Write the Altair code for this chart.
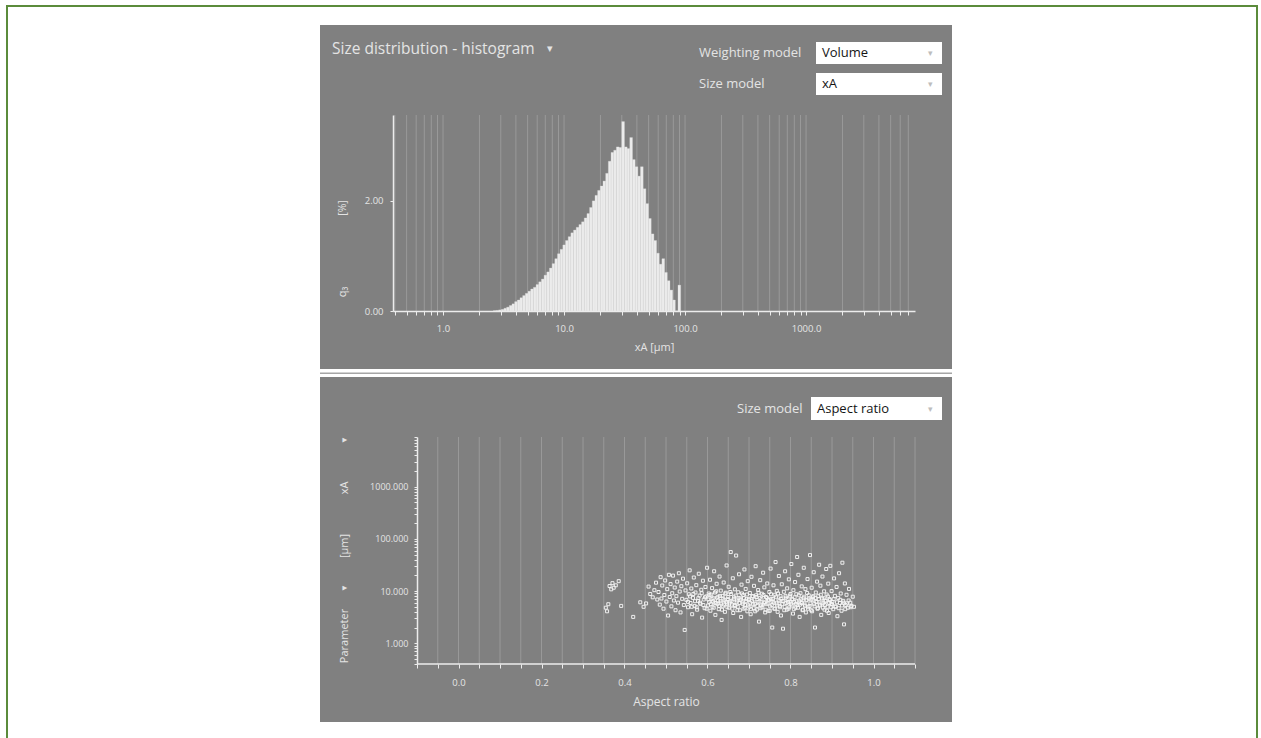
import altair as alt
import pandas as pd
import numpy as np

FONT = "Open Sans"
PANEL = "#808080"
GRID = "#999999"
AXIS = "#ececec"
LABEL = "#e4e4e4"
FRAME = "#5b8b3b"

# ---------------- histogram (top panel) ----------------
hist_edge_min_um = 2.6
hist_edge_max_um = 92.0
hist_q3 = [0.005, 0.01, 0.02, 0.03, 0.05, 0.07, 0.10, 0.13, 0.17, 0.20,
           0.24, 0.28, 0.32, 0.36, 0.40, 0.43, 0.48, 0.53, 0.58, 0.65,
           0.71, 0.78, 0.86, 0.95, 1.04, 1.12, 1.20, 1.28, 1.35, 1.42,
           1.47, 1.52, 1.57, 1.62, 1.69, 1.77, 1.88, 2.00, 2.10, 2.19,
           2.27, 2.36, 2.50, 2.72, 2.88, 2.92, 2.98, 2.97, 3.44, 2.98,
           2.95, 3.15, 2.75, 2.62, 2.45, 2.62, 2.22, 1.95, 1.68, 1.40,
           1.28, 1.05, 0.85, 0.95, 0.70, 0.55, 0.38, 0.20, 0.0, 0.47]
top_x_ticks = [0.4, 0.5, 0.6, 0.7, 0.8, 0.9,
               1, 2, 3, 4, 5, 6, 7, 8, 9,
               10, 20, 30, 40, 50, 60, 70, 80, 90,
               100, 200, 300, 400, 500, 600, 700, 800, 900,
               1000, 2000, 3000, 4000, 5000, 6000, 7000]
top_x_labels = [1, 10, 100, 1000]
top_y_ticks = [0, 2]

# ---------------- scatter (bottom panel): (aspect ratio, xA in um) ----------------
scatter_points = [
    (0.355, 4.8), (0.358, 4.1), (0.361, 5.6), (0.364, 12.5), (0.368, 10.8), (0.371, 14.2), (0.374, 11.6),
    (0.379, 12.9), (0.386, 15.5), (0.392, 5.2), (0.421, 3.2), (0.438, 6.1), (0.446, 5.0), (0.452, 5.8),
    (0.458, 12.2), (0.462, 8.8), (0.468, 7.6), (0.472, 10.4), (0.476, 14.5), (0.479, 6.9),
    (0.482, 9.6), (0.485, 5.5), (0.487, 18.5), (0.489, 7.2), (0.491, 12.8), (0.494, 4.6), (0.496, 8.4),
    (0.498, 16.0), (0.501, 6.3), (0.503, 10.9), (0.505, 3.4), (0.507, 20.5), (0.509, 7.7), (0.511, 13.6),
    (0.513, 5.1), (0.515, 9.1), (0.517, 19.8), (0.519, 6.6), (0.521, 11.7), (0.523, 4.3),
    (0.525, 8.0), (0.527, 15.2), (0.529, 6.0), (0.531, 22.0), (0.533, 9.8), (0.535, 3.9), (0.537, 12.4),
    (0.539, 7.1), (0.541, 17.3), (0.543, 5.4), (0.545, 1.8), (0.547, 10.3), (0.549, 6.8), (0.551, 14.1),
    (0.553, 4.9), (0.555, 8.7), (0.557, 25.0), (0.559, 5.9), (0.561, 11.2), (0.563, 3.6),
    (0.565, 7.4), (0.567, 18.2), (0.569, 5.2), (0.571, 9.4), (0.573, 13.0), (0.575, 4.4), (0.577, 6.5),
    (0.579, 21.5), (0.581, 8.2), (0.583, 5.7), (0.585, 10.6), (0.587, 3.1), (0.589, 15.8), (0.591, 6.9),
    (0.593, 4.7), (0.595, 12.0), (0.597, 7.9), (0.599, 28.0), (0.601, 5.3), (0.603, 9.0),
    (0.604, 6.2), (0.606, 16.5), (0.607, 4.2), (0.609, 8.6), (0.611, 11.4), (0.612, 5.0), (0.614, 7.3),
    (0.616, 24.0), (0.617, 6.0), (0.619, 3.5), (0.621, 9.9), (0.622, 13.8), (0.624, 5.6), (0.626, 7.8),
    (0.627, 4.5), (0.629, 19.0), (0.631, 6.4), (0.632, 10.2), (0.634, 2.8), (0.636, 8.1), (0.637, 5.1),
    (0.639, 14.6), (0.641, 6.7), (0.642, 4.0), (0.644, 9.3), (0.646, 31.0), (0.647, 5.8), (0.649, 7.0),
    (0.651, 12.1), (0.652, 4.8), (0.654, 6.3), (0.656, 56.0), (0.657, 8.8), (0.659, 5.5), (0.661, 17.6),
    (0.662, 3.8), (0.664, 7.6), (0.666, 10.8), (0.667, 5.2), (0.669, 48.0), (0.671, 6.6), (0.672, 4.3),
    (0.674, 9.5), (0.676, 21.0), (0.677, 5.9), (0.679, 7.2), (0.681, 3.2), (0.682, 13.3), (0.684, 6.1),
    (0.686, 8.4), (0.687, 4.6), (0.689, 26.0), (0.691, 5.4), (0.692, 11.0), (0.694, 7.0), (0.696, 4.1),
    (0.697, 15.5), (0.699, 6.8),
    (0.701, 5.0), (0.702, 9.2), (0.704, 3.6), (0.706, 18.8), (0.707, 6.5), (0.709, 7.9), (0.711, 4.7),
    (0.712, 12.6), (0.714, 5.7), (0.716, 30.0), (0.717, 8.3), (0.719, 4.4), (0.721, 6.2), (0.722, 10.5),
    (0.724, 2.6), (0.726, 7.4), (0.727, 16.2), (0.729, 5.3), (0.731, 8.9), (0.732, 4.9), (0.734, 22.5),
    (0.736, 6.0), (0.737, 11.8), (0.739, 3.9), (0.741, 7.7), (0.742, 5.6), (0.744, 14.0), (0.746, 6.9),
    (0.747, 4.2), (0.749, 9.6),
    (0.751, 5.1), (0.752, 27.0), (0.754, 7.1), (0.756, 2.0), (0.757, 6.3), (0.759, 12.9), (0.761, 4.6),
    (0.762, 8.5), (0.764, 36.0), (0.766, 5.8), (0.767, 10.1), (0.769, 4.0), (0.771, 6.7), (0.772, 19.5),
    (0.774, 5.2), (0.776, 8.0), (0.777, 3.4), (0.779, 13.5), (0.781, 6.4), (0.782, 1.9), (0.784, 9.7),
    (0.786, 5.0), (0.787, 24.0), (0.789, 7.5), (0.791, 4.4), (0.792, 11.3), (0.794, 6.1), (0.796, 16.8),
    (0.797, 4.9), (0.799, 8.2),
    (0.801, 5.7), (0.802, 33.0), (0.804, 7.0), (0.806, 3.7), (0.807, 10.4), (0.809, 6.2), (0.811, 14.9),
    (0.812, 4.8), (0.814, 8.7), (0.816, 45.0), (0.817, 5.4), (0.819, 20.5), (0.821, 6.6), (0.822, 3.2),
    (0.824, 9.1), (0.826, 5.9), (0.827, 12.3), (0.829, 4.3), (0.831, 7.3), (0.832, 28.0), (0.834, 5.5),
    (0.836, 10.9), (0.837, 3.9), (0.839, 6.8), (0.841, 17.0), (0.842, 4.6), (0.844, 8.3), (0.846, 5.2),
    (0.847, 49.0), (0.849, 6.9),
    (0.851, 11.6), (0.852, 4.1), (0.854, 7.6), (0.856, 23.0), (0.857, 5.6), (0.859, 2.0), (0.861, 9.4),
    (0.862, 6.3), (0.864, 15.2), (0.866, 4.7), (0.867, 8.0), (0.869, 32.0), (0.871, 5.3), (0.872, 12.7),
    (0.874, 3.5), (0.876, 7.2), (0.877, 19.0), (0.879, 5.8), (0.881, 9.9), (0.882, 4.4), (0.884, 6.6),
    (0.886, 26.5), (0.887, 8.6), (0.889, 5.0), (0.891, 13.9), (0.892, 3.8), (0.894, 7.0), (0.896, 30.5),
    (0.897, 5.7), (0.899, 10.0),
    (0.901, 6.2), (0.903, 4.5), (0.905, 17.5), (0.907, 8.1), (0.909, 5.1), (0.911, 12.0), (0.913, 3.3),
    (0.915, 7.4), (0.917, 22.0), (0.919, 5.9), (0.921, 9.0), (0.923, 4.2), (0.925, 35.0), (0.927, 6.5),
    (0.929, 2.3), (0.931, 14.0), (0.933, 5.4), (0.935, 8.5), (0.938, 4.8), (0.941, 11.0), (0.944, 6.0),
    (0.947, 5.2), (0.950, 7.8), (0.953, 5.0),
    # dense core
    (0.553, 6.2), (0.558, 7.9), (0.562, 5.0), (0.566, 8.8), (0.570, 6.4), (0.574, 4.9), (0.578, 7.3),
    (0.582, 6.0), (0.586, 9.1), (0.590, 5.4), (0.594, 7.6), (0.598, 4.6), (0.602, 6.9), (0.605, 8.4),
    (0.608, 5.6), (0.610, 7.1), (0.613, 6.3), (0.615, 4.8), (0.618, 9.4), (0.620, 5.9), (0.623, 7.5),
    (0.625, 6.6), (0.628, 5.2), (0.630, 8.1), (0.633, 6.0), (0.635, 4.4), (0.638, 7.2), (0.640, 5.5),
    (0.643, 8.9), (0.645, 6.2), (0.648, 4.9), (0.650, 7.7), (0.653, 5.8), (0.655, 9.6), (0.658, 6.5),
    (0.660, 4.6), (0.663, 7.0), (0.665, 5.4), (0.668, 8.2), (0.670, 6.1), (0.673, 5.0), (0.675, 7.4),
    (0.678, 4.3), (0.680, 6.8), (0.683, 9.0), (0.685, 5.7), (0.688, 7.3), (0.690, 4.8), (0.693, 6.4),
    (0.695, 8.6), (0.698, 5.3), (0.700, 7.1), (0.703, 6.0), (0.705, 4.5), (0.708, 8.0), (0.710, 5.6),
    (0.713, 6.9), (0.715, 4.1), (0.718, 7.7), (0.720, 5.2), (0.723, 9.3), (0.725, 6.3), (0.728, 4.7),
    (0.730, 7.0), (0.733, 5.5), (0.735, 8.4), (0.738, 6.1), (0.740, 4.4), (0.743, 7.4), (0.745, 5.8),
    (0.748, 6.7), (0.750, 4.2), (0.753, 8.7), (0.755, 5.4), (0.758, 7.1), (0.760, 6.0), (0.763, 4.6),
    (0.765, 7.8), (0.768, 5.3), (0.770, 9.0), (0.773, 6.4), (0.775, 4.9), (0.778, 7.2), (0.780, 5.6),
    (0.783, 6.5), (0.785, 4.3), (0.788, 8.1), (0.790, 5.9), (0.793, 7.0), (0.795, 4.6), (0.798, 6.2),
    (0.800, 8.8), (0.803, 5.3), (0.805, 6.9), (0.808, 4.5), (0.810, 7.6), (0.813, 5.7), (0.815, 6.4),
    (0.818, 4.8), (0.820, 8.3), (0.823, 5.5), (0.825, 7.0), (0.828, 6.0), (0.830, 4.4), (0.833, 7.8),
    (0.835, 5.2), (0.838, 6.6), (0.840, 9.2), (0.843, 5.0), (0.845, 7.2), (0.848, 5.8), (0.850, 4.3),
    (0.853, 6.8), (0.855, 8.0), (0.858, 5.1), (0.860, 7.4), (0.863, 6.2), (0.865, 4.6), (0.868, 7.0),
    (0.870, 5.5), (0.873, 8.5), (0.875, 6.0), (0.878, 4.8), (0.880, 7.3), (0.883, 5.4), (0.885, 6.5),
    (0.888, 4.2), (0.890, 7.9), (0.893, 5.9), (0.895, 6.7), (0.898, 4.9), (0.900, 5.6), (0.904, 7.0),
    (0.908, 5.0), (0.912, 6.1), (0.916, 4.7), (0.920, 6.8), (0.924, 5.3), (0.928, 6.0), (0.932, 4.5),
    (0.936, 5.8), (0.940, 6.6), (0.945, 4.9),
]
bot_x_ticks = [-0.1, -0.05, 0.0, 0.05, 0.1, 0.15, 0.2, 0.25, 0.3, 0.35, 0.4, 0.45, 0.5,
               0.55, 0.6, 0.65, 0.7, 0.75, 0.8, 0.85, 0.9, 0.95, 1.0, 1.05, 1.1]
bot_x_labels = [0.0, 0.2, 0.4, 0.6, 0.8, 1.0]
bot_grid = [-0.05, 0.0, 0.05, 0.1, 0.15, 0.2, 0.25, 0.3, 0.35, 0.4, 0.45, 0.5,
            0.55, 0.6, 0.65, 0.7, 0.75, 0.8, 0.85, 0.9, 0.95, 1.0, 1.05, 1.1]
bot_y_ticks = [0.4, 0.5, 0.6, 0.7, 0.8, 0.9, 1, 2, 3, 4, 5, 6, 7, 8, 9,
               10, 20, 30, 40, 50, 60, 70, 80, 90, 100, 200, 300, 400, 500, 600, 700, 800, 900,
               1000, 2000, 3000, 4000, 5000, 6000, 7000, 8000, 9000]
bot_y_labels = [1, 10, 100, 1000]

# ---------------- helpers ----------------
ONE = pd.DataFrame({"k": [0]})


def txt(s, x, y, **kw):
    style = dict(align="left", baseline="middle", font=FONT, fontSize=13, color=LABEL)
    style.update(kw)
    return alt.Chart(ONE).mark_text(**style).encode(
        x=alt.value(x), y=alt.value(y), text=alt.value(s))


def box(x1, x2, y1, y2, **kw):
    return alt.Chart(ONE).mark_rect(**kw).encode(
        x=alt.value(x1), x2=alt.value(x2), y=alt.value(y1), y2=alt.value(y2))


def dropdown(x1, x2, y1, y2, label):
    ym = (y1 + y2) / 2
    return [
        box(x1, x2, y1, y2, color="white"),
        txt(label, x1 + 6, ym, color="#151515", fontSize=13),
        txt("▾", x2 - 12, ym, color="#bdbdbd", fontSize=9, align="center"),
    ]


# ---------------- top panel ----------------
W1, H1 = 522, 196
edges = np.geomspace(hist_edge_min_um, hist_edge_max_um, len(hist_q3) + 1)
hist_df = pd.DataFrame({"lo": edges[:-1], "hi": edges[1:], "q3": hist_q3, "base": 0.0})

xs1 = alt.Scale(type="log", domain=[0.386, 7950], nice=False)
ys1 = alt.Scale(domain=[0, 3.56], nice=False, zero=True)

lab_top = " || ".join(f"datum.value == {v}" for v in top_x_labels)

x_axis1 = alt.Axis(
    values=top_x_ticks, labelExpr=f"({lab_top}) ? format(datum.value, '.1f') : ''",
    grid=False, domainColor=AXIS, domainWidth=1.5, tickColor=AXIS, tickSize=4,
    labelColor=LABEL, labelFont=FONT, labelFontSize=9.5, labelPadding=8,
    labelOverlap=False, labelFlush=False,
    title="xA [µm]", titleFont=FONT, titleFontSize=11, titleFontWeight="normal",
    titleColor=LABEL, titlePadding=9, zindex=1)
y_axis1 = alt.Axis(
    values=top_y_ticks, format=".2f", grid=False, domainColor=AXIS, domainWidth=1.5,
    tickColor=AXIS, tickSize=3, labelColor=LABEL, labelFont=FONT, labelFontSize=9.5,
    labelPadding=7, title=None, zindex=1)

grid1 = alt.Chart(pd.DataFrame({"v": top_x_ticks})).mark_rule(color=GRID, strokeWidth=1).encode(
    x=alt.X("v:Q", scale=xs1, axis=x_axis1))

bars = alt.Chart(hist_df).mark_rect(color="#ececec", stroke="#dedede", strokeWidth=0.3).encode(
    x=alt.X("lo:Q", scale=xs1, axis=x_axis1),
    x2="hi:Q",
    y=alt.Y("q3:Q", scale=ys1, axis=y_axis1),
    y2="base:Q",
)

top_layers = [
    box(-393, 868, -115, 623, color="white"),
    box(-387, -385, -110, 623, color=FRAME),
    box(-387, 865, -110, -108, color=FRAME),
    box(863, 865, -110, 623, color=FRAME),
    box(-73, 559, -90, 254, color=PANEL),
    box(-73, 559, 257.5, 259, color="#a6a6a6"),
    grid1,
    bars,
    txt("Size distribution - histogram", -61, -66, fontSize=15.5),
    txt("▾", 154, -66, fontSize=11),
    txt("Weighting model", 306, -62),
    *dropdown(423, 549, -73, -51, "Volume"),
    txt("Size model", 306, -31),
    *dropdown(423, 549, -42, -20, "xA"),
    txt("[%]", -50, 93, angle=270, align="center", fontSize=10.5),
    txt("q₃", -50, 177, angle=270, align="center", fontSize=11),
]
top = alt.layer(*top_layers).properties(width=W1, height=H1)

# ---------------- bottom panel ----------------
W2, H2 = 522, 227
xs2 = alt.Scale(domain=[-0.1 - 24 / 415.0, 1.1], nice=False, zero=False)
ys2 = alt.Scale(type="log", domain=[0.4, 9000], nice=False)

sc_df = pd.DataFrame(scatter_points, columns=["ar", "xa"])
lab_bx = ", ".join(str(v) for v in bot_x_labels)
lab_by = ", ".join(str(v) for v in bot_y_labels)

x_axis2 = alt.Axis(
    values=bot_x_ticks,
    labelExpr=f"indexof([{lab_bx}], datum.value) >= 0 ? format(datum.value, '.1f') : ''",
    grid=False, domain=False, tickColor=AXIS, tickSize=4,
    labelColor=LABEL, labelFont=FONT, labelFontSize=9.5, labelPadding=9,
    labelOverlap=False, labelFlush=False,
    title="Aspect ratio", titleFont=FONT, titleFontSize=12, titleFontWeight="normal",
    titleColor=LABEL, titlePadding=10, titleX=273, zindex=1)
y_axis2 = alt.Axis(
    values=bot_y_ticks,
    labelExpr=f"indexof([{lab_by}], datum.value) >= 0 ? format(datum.value, '.3f') : ''",
    grid=False, domainColor=AXIS, domainWidth=1.5, tickColor=AXIS, tickSize=3,
    labelColor=LABEL, labelFont=FONT, labelFontSize=9, labelPadding=6,
    labelOverlap=False, labelFlush=False, offset=-24, title=None, zindex=1)

grid2 = alt.Chart(pd.DataFrame({"v": bot_grid})).mark_rule(color=GRID, strokeWidth=1).encode(
    x=alt.X("v:Q", scale=xs2, axis=x_axis2))

baseline = alt.Chart(pd.DataFrame({"ar": [-0.1], "b": [1.1], "xa": [0.4]})).mark_rule(
    color=AXIS, strokeWidth=1.5).encode(
    x=alt.X("ar:Q", scale=xs2, axis=x_axis2), x2="b:Q",
    y=alt.Y("xa:Q", scale=ys2, axis=y_axis2))

pts = alt.Chart(sc_df).mark_point(shape="square", filled=False, size=9, strokeWidth=1,
                                  color="#f6f6f6", opacity=0.95).encode(
    x=alt.X("ar:Q", scale=xs2, axis=x_axis2),
    y=alt.Y("xa:Q", scale=ys2, axis=y_axis2),
)

bot_layers = [
    box(-73, 559, -60, 285, color=PANEL),
    grid2,
    baseline,
    pts,
    txt("Size model", 344, -28),
    *dropdown(418, 549, -40, -17, "Aspect ratio"),
    txt("▼", -48, 3, angle=270, align="center", fontSize=8),
    txt("xA", -48, 51, angle=270, align="center", fontSize=11),
    txt("[µm]", -48, 109, angle=270, align="center", fontSize=11),
    txt("▼", -48, 151, angle=270, align="center", fontSize=8),
    txt("Parameter", -48, 199, angle=270, align="center", fontSize=11),
]
bottom = alt.layer(*bot_layers).properties(width=W2, height=H2)

chart = alt.vconcat(top, bottom, spacing=126, bounds="flush").properties(
    padding=0, background="white"
).configure_view(stroke=None)

chart.save("out.html", embed_options={"renderer": "svg", "actions": False})
